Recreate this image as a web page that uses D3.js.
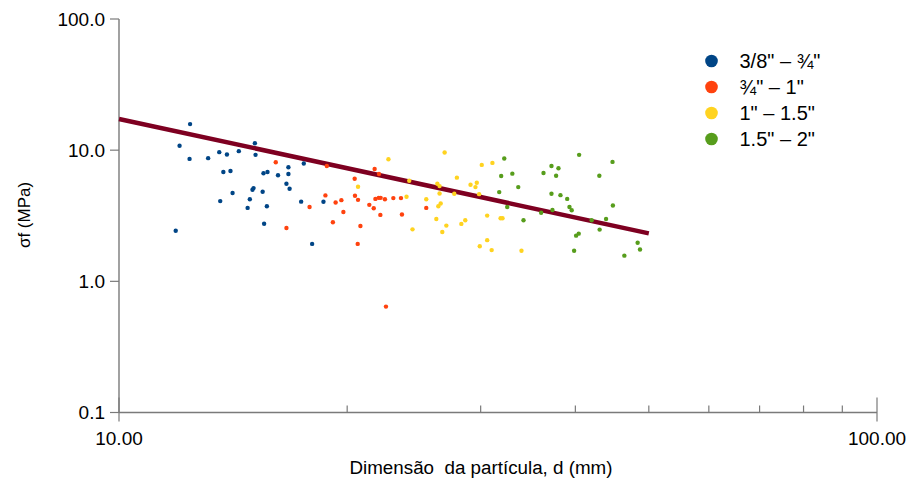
<!DOCTYPE html>
<html>
<head>
<meta charset="utf-8">
<script src="https://cdn.jsdelivr.net/npm/d3@7"></script>
<style>
  body { margin: 0; background: #fff; }
  text { font-family: "Liberation Sans", Arial, sans-serif; fill: #000; }
</style>
</head>
<body>
<svg width="908" height="479"></svg>
<script>
// Legend labels (size classes)
const groups = ["3/8\" – ¾\"", "¾\" – 1\"", "1\" – 1.5\"", "1.5\" – 2\""];

// particle size d (mm) and strength σf (MPa) per class
const dBlue = [12.41, 12.02, 12.39, 13.11, 13.56, 13.88, 14.39, 15.11, 15.14, 13.73, 14.03, 15.51, 15.70, 16.21, 16.73, 16.73,
  17.53, 16.63, 16.79, 14.12, 15.00, 15.05, 15.47, 14.88, 13.60, 14.78, 15.67, 17.39, 15.54, 11.88, 18.61, 17.98];
const sBlue = [15.8, 10.8, 8.58, 8.69, 9.66, 9.26, 9.83, 11.3, 9.21, 6.82, 6.94, 6.66, 6.82, 6.43, 7.41, 6.58,
  7.92, 5.55, 5.08, 4.71, 4.99, 5.14, 4.82, 4.23, 4.09, 3.63, 3.74, 4.05, 2.75, 2.43, 4.04, 1.93];

const dOrange = [16.10, 16.63, 17.84, 18.80, 21.74, 22.03, 20.46, 18.72, 19.31, 19.65, 19.77, 20.48, 20.67, 21.39,
  21.68, 21.79, 22.01, 22.14, 22.43, 23.01, 23.55, 22.12, 23.62, 19.15, 20.82, 20.65, 22.50, 25.43];
const sOrange = [8.09, 2.55, 3.69, 7.58, 7.19, 6.58, 6.06, 4.52, 3.99, 4.16, 3.38, 4.49, 4.18, 3.83,
  3.61, 4.25, 4.33, 4.33, 4.23, 4.31, 4.31, 3.21, 3.23, 2.82, 2.64, 1.93, 0.642, 3.63];

const dYellow = [22.67, 20.67, 24.15, 23.95, 26.89, 26.30, 26.48, 26.48, 25.43, 26.57, 26.38, 26.22, 27.03, 24.39, 26.70, 30.10,
  31.09, 27.91, 29.09, 29.65, 29.53, 29.86, 27.69, 28.29, 28.63, 30.60, 31.87, 32.06, 30.60, 29.92, 31.02, 33.96];
const sYellow = [8.53, 5.26, 5.85, 4.41, 9.59, 5.55, 5.32, 4.67, 4.23, 3.92, 3.74, 2.99, 2.66, 2.49, 2.38, 7.72,
  8.00, 6.17, 5.45, 5.65, 5.23, 4.62, 4.65, 2.74, 2.92, 3.17, 3.03, 3.03, 2.06, 1.85, 1.73, 1.71];

const dGreen = [32.23, 31.93, 33.03, 36.31, 33.63, 31.74, 32.52, 36.05, 34.17, 40.46, 37.20, 38.00, 37.73, 44.78, 43.02, 37.20,
  38.23, 39.02, 39.29, 39.56, 37.31, 44.83, 42.03, 43.91, 43.06, 40.41, 40.09, 39.85, 48.33, 48.68, 46.42];
const sGreen = [8.63, 6.35, 6.62, 6.70, 5.23, 4.79, 3.69, 3.33, 2.92, 9.21, 7.58, 7.28, 6.39, 8.14, 6.39, 4.65,
  4.54, 4.25, 3.69, 3.48, 3.50, 3.79, 2.92, 2.99, 2.48, 2.31, 2.23, 1.71, 1.97, 1.75, 1.57];

// trend line (power fit) end points
const fitD = [10, 50];
const fitS = [17.3, 2.32];

const xTicks = [10, 100];
const yTicks = [0.1, 1, 10, 100];

const colors = ["#004586", "#ff420e", "#ffd320", "#579d1c"];
const series = [[dBlue, sBlue], [dOrange, sOrange], [dYellow, sYellow], [dGreen, sGreen]];

const svg = d3.select("svg");

const x = d3.scaleLog().domain([10, 100]).range([119, 877]);
const y = d3.scaleLog().domain([0.1, 100]).range([412.5, 19]);

const axisColor = "#7a7a7a";

// x axis: minor ticks inside, labels only at decades
const xAxis = svg.append("g").attr("transform", `translate(0,${y(0.1)})`);
xAxis.append("line")
    .attr("x1", x(10)).attr("x2", x(100))
    .attr("stroke", axisColor).attr("stroke-width", 1.4);
xAxis.selectAll(".minor")
    .data(x.ticks().filter(t => !xTicks.includes(t)))
    .enter().append("line")
    .attr("x1", d => x(d)).attr("x2", d => x(d))
    .attr("y1", -7).attr("y2", 0)
    .attr("stroke", axisColor).attr("stroke-width", 1.2);
xAxis.selectAll(".major")
    .data(xTicks)
    .enter().append("line")
    .attr("x1", d => x(d)).attr("x2", d => x(d))
    .attr("y1", -15).attr("y2", 9)
    .attr("stroke", axisColor).attr("stroke-width", 1.2);
xAxis.selectAll("text")
    .data(xTicks)
    .enter().append("text")
    .attr("x", d => x(d))
    .attr("y", 32)
    .attr("text-anchor", "middle")
    .style("font-size", "19px")
    .text(d => d3.format(".2f")(d));

// y axis
const yAxis = svg.append("g").attr("transform", `translate(${x(10)},0)`);
yAxis.append("line")
    .attr("y1", y(0.1)).attr("y2", y(100))
    .attr("stroke", axisColor).attr("stroke-width", 1.4);
yAxis.selectAll(".tick")
    .data(yTicks)
    .enter().append("line")
    .attr("x1", -9).attr("x2", 0)
    .attr("y1", d => y(d)).attr("y2", d => y(d))
    .attr("stroke", axisColor).attr("stroke-width", 1.2);
yAxis.selectAll("text")
    .data(yTicks)
    .enter().append("text")
    .attr("x", -14)
    .attr("y", d => y(d))
    .attr("dy", "0.35em")
    .attr("text-anchor", "end")
    .style("font-size", "19px")
    .text(d => d3.format(".1f")(d));

// axis titles
svg.append("text")
    .attr("x", 481).attr("y", 474)
    .attr("text-anchor", "middle")
    .style("font-size", "18.8px")
    .style("white-space", "pre")
    .attr("xml:space", "preserve")
    .text("Dimensão  da partícula, d (mm)");

svg.append("text")
    .attr("transform", "translate(30,215) rotate(-90)")
    .attr("text-anchor", "middle")
    .style("font-size", "17px")
    .text("σf (MPa)");

// trend line
svg.append("path")
    .datum(fitD.map((d, i) => [d, fitS[i]]))
    .attr("d", d3.line().x(d => x(d[0])).y(d => y(d[1])))
    .attr("stroke", "#7e0021")
    .attr("stroke-width", 4.5)
    .attr("fill", "none");

// points
series.forEach(([ds, ss], k) => {
    svg.append("g").selectAll("circle")
        .data(ds.map((d, i) => [d, ss[i]]))
        .enter().append("circle")
        .attr("cx", d => x(d[0]))
        .attr("cy", d => y(d[1]))
        .attr("r", 2.2)
        .attr("fill", colors[k]);
});

// legend
const legend = svg.append("g").attr("transform", "translate(711.5,61)");
groups.forEach((g, i) => {
    legend.append("circle")
        .attr("cx", 0).attr("cy", i * 26)
        .attr("r", 6.3)
        .attr("fill", colors[i]);
    legend.append("text")
        .attr("x", 28).attr("y", i * 26)
        .attr("dy", "0.36em")
        .style("font-size", "20px")
        .text(g);
});
</script>
</body>
</html>
